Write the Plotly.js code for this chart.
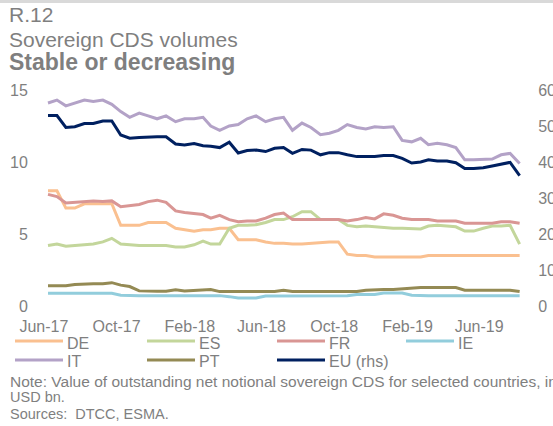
<!DOCTYPE html>
<html><head><meta charset="utf-8">
<script src="https://cdn.plot.ly/plotly-3.0.1.min.js"></script>
<style>html,body{margin:0;padding:0;overflow:hidden;background:#fff}#chart{width:553px;height:426px}</style>
</head><body><div id="chart"></div>
<script>
const dates=['2017-06-08','2017-06-23','2017-07-08','2017-07-23','2017-08-08','2017-08-23','2017-09-08','2017-09-23','2017-10-08','2017-10-23','2017-11-08','2017-11-23','2017-12-08','2017-12-23',
'2018-01-08','2018-01-23','2018-02-08','2018-02-23','2018-03-08','2018-03-23','2018-04-08','2018-04-23','2018-05-08','2018-05-23','2018-06-08','2018-06-23','2018-07-08','2018-07-23','2018-08-08','2018-08-23','2018-09-08','2018-09-23','2018-10-08','2018-10-23','2018-11-08','2018-11-23','2018-12-08','2018-12-23',
'2019-01-08','2019-01-23','2019-02-08','2019-02-23','2019-03-08','2019-03-23','2019-04-08','2019-04-23','2019-05-08','2019-05-23','2019-06-08','2019-06-23','2019-07-08','2019-07-23','2019-08-08'];
const DE=[8.0,8.0,6.8,6.8,7.1,7.1,7.1,7.1,5.6,5.6,5.6,5.8,5.8,5.8,5.4,5.3,5.2,5.3,5.3,5.4,5.4,4.6,4.6,4.6,4.45,4.35,4.35,4.3,4.3,4.35,4.45,4.45,4.45,3.6,3.5,3.5,3.4,3.4,3.4,3.45,3.4,3.4,3.5,3.5,3.5,3.5,3.5,3.5,3.5,3.5,3.5,3.5,3.5];
const ES=[4.2,4.3,4.15,4.2,4.3,4.3,4.45,4.7,4.3,4.25,4.2,4.2,4.2,4.2,4.1,4.1,4.25,4.5,4.3,4.3,5.4,5.6,5.6,5.65,5.8,6.0,6.0,6.2,6.55,6.55,6.0,6.0,6.0,5.6,5.5,5.55,5.5,5.5,5.4,5.4,5.35,5.35,5.55,5.6,5.55,5.5,5.2,5.2,5.4,5.55,5.55,5.6,4.3];
const FR=[7.75,7.6,7.15,7.2,7.3,7.3,7.25,7.3,6.9,6.95,7.05,7.25,7.35,7.2,6.6,6.5,6.4,6.35,6.1,6.3,6.0,5.85,5.9,5.9,6.1,6.35,6.45,6.0,6.0,6.0,6.0,6.0,6.0,5.9,6.0,6.15,6.05,6.4,6.3,6.1,6.0,6.0,6.0,5.9,5.9,5.9,5.75,5.75,5.75,5.75,5.85,5.85,5.75];
const IE=[0.88,0.88,0.88,0.88,0.88,0.88,0.88,0.88,0.75,0.72,0.72,0.72,0.72,0.72,0.72,0.72,0.72,0.72,0.72,0.72,0.65,0.55,0.55,0.55,0.7,0.7,0.7,0.72,0.72,0.72,0.72,0.72,0.72,0.72,0.8,0.8,0.8,0.9,0.9,0.9,0.75,0.72,0.72,0.72,0.72,0.72,0.72,0.72,0.72,0.72,0.72,0.72,0.72];
const IT=[14.1,14.3,13.9,14.1,14.3,14.2,14.3,14.0,13.5,13.1,13.4,13.2,13.0,13.2,12.8,13.0,13.0,13.1,12.5,12.2,12.5,12.6,13.0,13.2,12.8,13.0,13.1,12.2,12.7,12.4,11.9,12.0,12.2,12.6,12.4,12.3,12.45,12.4,12.45,11.5,11.4,11.65,11.2,11.3,11.2,11.0,10.15,10.15,10.2,10.2,10.5,10.6,9.9];
const PT=[1.4,1.4,1.4,1.5,1.55,1.55,1.55,1.62,1.45,1.35,1.05,1.02,1.02,1.02,1.12,1.05,1.08,1.15,1.15,1.0,1.0,1.0,1.0,1.0,1.0,1.0,1.1,1.0,1.0,1.0,1.0,1.0,1.0,1.0,1.0,1.1,1.15,1.15,1.15,1.2,1.28,1.28,1.28,1.28,1.28,1.28,1.1,1.1,1.1,1.1,1.1,1.1,1.0];
const EU=[52.9,52.9,49.6,49.8,50.7,50.7,51.4,51.4,47.5,46.6,46.8,47.0,47.0,47.0,45.0,44.7,45.1,44.5,44.4,44.0,45.5,42.5,43.2,43.3,42.9,43.8,44.0,42.4,43.5,43.3,42.0,42.6,42.6,42.0,41.5,41.5,41.5,41.8,41.8,41.0,39.7,40.0,40.6,40.3,40.3,39.8,38.2,38.2,38.4,38.9,39.4,39.9,36.2];

const seriesNames=['DE','ES','FR','IE','IT','PT','EU (rhs)'];
const seriesColors=['#FAC090','#C3D69B','#D99694','#92CDDC','#B3A2C7','#948A54','#002060'];
const xTickVals=['2017-06-01','2017-10-01','2018-02-01','2018-06-01','2018-10-01','2019-02-01','2019-06-01'];
const xTickText=['Jun-17','Oct-17','Feb-18','Jun-18','Oct-18','Feb-19','Jun-19'];
const leftTicks=[0,5,10,15];
const rightTicks=[0,10,20,30,40,50,60];
const titleLines=['R.12','Sovereign CDS volumes','Stable or decreasing'];
const noteLines=['Note: Value of outstanding net notional sovereign CDS for selected countries, in','USD bn.','Sources:  DTCC, ESMA.'];

const FONT='Liberation Sans, Arial, sans-serif';
const GRAY='#7f7f7f';
const L=40,R=525,T=90,B=306;
const px=x=>(x-L)/(R-L);
const py=y=>(B-y)/(B-T);

const ys=[DE,ES,FR,IE,IT,PT,EU];
const traces=ys.map((v,i)=>({
  x:dates,y:v,type:'scatter',mode:'lines',name:seriesNames[i],
  yaxis:i===6?'y2':'y',
  line:{color:seriesColors[i],width:3},hoverinfo:'skip',showlegend:false
}));

const shapes=[{type:'rect',xref:'paper',yref:'paper',x0:px(0),x1:px(553),y0:py(0),y1:py(3),fillcolor:'#d9d9d9',line:{width:0}}];
const annotations=[];
const colX=[15,147,277,406], rowLineY=[341,360], rowTextY=[343,361.5];
seriesNames.forEach((n,i)=>{
  const c=i%4, r=Math.floor(i/4);
  shapes.push({type:'line',xref:'paper',yref:'paper',x0:px(colX[c]),x1:px(colX[c]+48),y0:py(rowLineY[r]),y1:py(rowLineY[r]),line:{color:seriesColors[i],width:3}});
  annotations.push({xref:'paper',yref:'paper',x:px(colX[c]+50),y:py(rowTextY[r]),xanchor:'left',yanchor:'middle',showarrow:false,text:n,font:{family:FONT,size:16,color:GRAY}});
});
const titleY=[14.7,39.5,62], titleSize=[21,21,23];
titleLines.forEach((t,i)=>annotations.push({xref:'paper',yref:'paper',x:px(7),y:py(titleY[i]),xanchor:'left',yanchor:'middle',showarrow:false,
  text:i===2?'<b>'+t+'</b>':t,font:{family:FONT,size:titleSize[i],color:GRAY}}));
const noteY=[381,397,414], noteSize=[15.5,14.5,14.5];
noteLines.forEach((t,i)=>annotations.push({xref:'paper',yref:'paper',x:px(8),y:py(noteY[i]),xanchor:'left',yanchor:'middle',showarrow:false,
  text:t,font:{family:FONT,size:noteSize[i],color:GRAY}}));

const layout={
  width:553,height:426,margin:{l:L,r:553-R,t:T,b:426-B},
  paper_bgcolor:'#fff',plot_bgcolor:'#fff',showlegend:false,
  font:{family:FONT,color:GRAY,size:16},
  xaxis:{type:'date',range:['2017-05-25 14:00','2019-08-17'],tickvals:xTickVals,ticktext:xTickText,showgrid:false,zeroline:false,showline:false,
    ticks:'outside',ticklen:0,ticklabelstandoff:6,tickfont:{family:FONT,size:16,color:GRAY}},
  yaxis:{range:[0,15],tickvals:leftTicks,showgrid:false,zeroline:false,showline:false,ticks:'outside',ticklen:0,ticklabelstandoff:8,
    tickfont:{family:FONT,size:16,color:GRAY}},
  yaxis2:{range:[0,60],tickvals:rightTicks,overlaying:'y',side:'right',showgrid:false,zeroline:false,showline:false,ticks:'outside',ticklen:0,ticklabelstandoff:9,
    tickfont:{family:FONT,size:16,color:GRAY}},
  shapes:shapes,annotations:annotations
};
Plotly.newPlot('chart',traces,layout,{displayModeBar:false,staticPlot:true});
</script></body></html>
